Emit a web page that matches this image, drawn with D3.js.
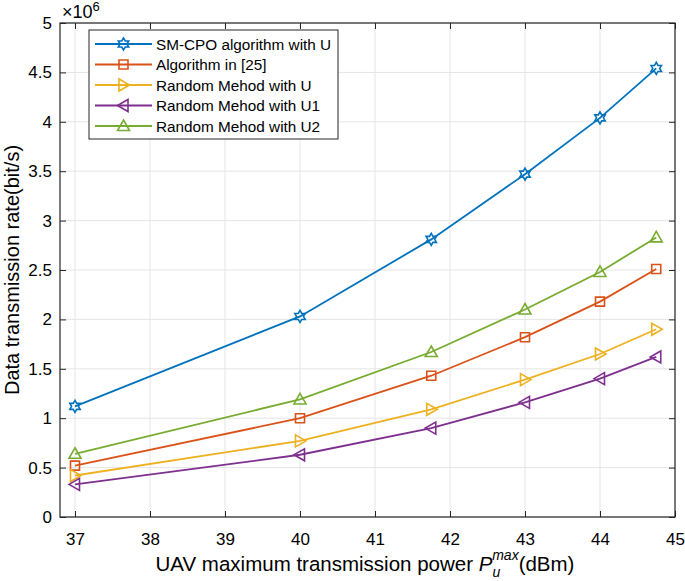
<!DOCTYPE html>
<html>
<head>
<meta charset="utf-8">
<script src="https://cdn.jsdelivr.net/npm/d3@7"></script>
<style>
  body { margin: 0; background: #fff; }
  text { font-family: "Liberation Sans", Arial, sans-serif; fill: #000; }
</style>
</head>
<body>
<div id="chart"></div>
<script>
// chart data (values in units of 1e6 bit/s)
const powerLevels = [37, 40, 41.75, 43, 44, 44.75];
const smCpoU   = [1.12, 2.03, 2.81, 3.47, 4.04, 4.54];
const algo25   = [0.52, 1.00, 1.43, 1.82, 2.18, 2.51];
const randomU  = [0.42, 0.77, 1.09, 1.39, 1.65, 1.90];
const randomU1 = [0.33, 0.63, 0.90, 1.16, 1.40, 1.62];
const randomU2 = [0.64, 1.19, 1.67, 2.10, 2.48, 2.83];
const xTicks = [37, 38, 39, 40, 41, 42, 43, 44, 45];
const yTicks = [0, 0.5, 1, 1.5, 2, 2.5, 3, 3.5, 4, 4.5, 5];

const series = [
  { name: "SM-CPO algorithm with U", values: smCpoU,   color: "#0072BD", marker: "hexagram" },
  { name: "Algorithm in [25]",       values: algo25,   color: "#D95319", marker: "square" },
  { name: "Random Mehod with U",     values: randomU,  color: "#EDB120", marker: "right" },
  { name: "Random Mehod with U1",    values: randomU1, color: "#7E2F8E", marker: "left" },
  { name: "Random Mehod with U2",    values: randomU2, color: "#77AC30", marker: "up" }
];

const width = 685, height = 581;
const margin = { top: 23, right: 10, bottom: 64, left: 60 };
const innerW = width - margin.left - margin.right;
const innerH = height - margin.top - margin.bottom;

const svg = d3.select("#chart")
  .append("svg")
  .attr("width", width)
  .attr("height", height);

const g = svg.append("g")
  .attr("transform", `translate(${margin.left},${margin.top})`);

const x = d3.scaleLinear().domain([36.8, 45]).range([0, innerW]);
const y = d3.scaleLinear().domain([0, 5]).range([innerH, 0]);

// grid
g.append("g").selectAll("line")
  .data(xTicks)
  .join("line")
  .attr("x1", d => x(d)).attr("x2", d => x(d))
  .attr("y1", 0).attr("y2", innerH)
  .attr("stroke", "#e5e5e5").attr("stroke-width", 1);
g.append("g").selectAll("line")
  .data(yTicks)
  .join("line")
  .attr("x1", 0).attr("x2", innerW)
  .attr("y1", d => y(d)).attr("y2", d => y(d))
  .attr("stroke", "#e5e5e5").attr("stroke-width", 1);

// axes, ticks pointing inward on all four sides
const axisColor = "#262626";
function styleAxis(sel) {
  sel.select(".domain").remove();
  sel.selectAll(".tick line").attr("stroke", axisColor).attr("stroke-width", 1);
  sel.selectAll(".tick text")
    .style("font-family", "'Liberation Sans', Arial, sans-serif")
    .style("font-size", "17px")
    .attr("fill", "#000");
}
g.append("g")
  .attr("transform", `translate(0,${innerH})`)
  .call(d3.axisBottom(x).tickValues(xTicks).tickSizeInner(-6).tickSizeOuter(0).tickPadding(16).tickFormat(d3.format("d")))
  .call(styleAxis);
g.append("g")
  .call(d3.axisTop(x).tickValues(xTicks).tickSizeInner(-6).tickSizeOuter(0).tickFormat(""))
  .call(styleAxis);
g.append("g")
  .call(d3.axisLeft(y).tickValues(yTicks).tickSizeInner(-6).tickSizeOuter(0).tickPadding(8).tickFormat(d => d3.format("")(d)))
  .call(styleAxis);
g.append("g")
  .attr("transform", `translate(${innerW},0)`)
  .call(d3.axisRight(y).tickValues(yTicks).tickSizeInner(-6).tickSizeOuter(0).tickFormat(""))
  .call(styleAxis);

g.append("rect")
  .attr("width", innerW).attr("height", innerH)
  .attr("fill", "none").attr("stroke", axisColor).attr("stroke-width", 1.2);

// marker shapes
function markerPath(type, r) {
  if (type === "hexagram") {
    const pts = [];
    for (let i = 0; i < 12; i++) {
      const a = -Math.PI / 2 + i * Math.PI / 6;
      const rr = i % 2 === 0 ? r : r / Math.sqrt(3);
      pts.push([rr * Math.cos(a), rr * Math.sin(a)]);
    }
    return "M" + pts.map(p => p.join(",")).join("L") + "Z";
  }
  if (type === "square") {
    const s = r * 0.75;
    return `M${-s},${-s}L${s},${-s}L${s},${s}L${-s},${s}Z`;
  }
  if (type === "up") return `M0,${-r}L${r},${r * 0.75}L${-r},${r * 0.75}Z`;
  if (type === "right") return `M${r},0L${-r * 0.75},${r}L${-r * 0.75},${-r}Z`;
  if (type === "left") return `M${-r},0L${r * 0.75},${r}L${r * 0.75},${-r}Z`;
}

const line = d3.line()
  .x((d, i) => x(powerLevels[i]))
  .y(d => y(d));

series.forEach(s => {
  g.append("path")
    .datum(s.values)
    .attr("d", line)
    .attr("fill", "none")
    .attr("stroke", s.color)
    .attr("stroke-width", 1.8);
  g.append("g").selectAll("path")
    .data(s.values)
    .join("path")
    .attr("transform", (d, i) => `translate(${x(powerLevels[i])},${y(d)})`)
    .attr("d", markerPath(s.marker, 6))
    .attr("fill", "none")
    .attr("stroke", s.color)
    .attr("stroke-width", 1.6);
});

// legend
const legend = svg.append("g").attr("transform", "translate(89,30)");
legend.append("rect")
  .attr("width", 249).attr("height", 109)
  .attr("fill", "#fff").attr("stroke", axisColor).attr("stroke-width", 1);
series.forEach((s, i) => {
  const ly = 14 + i * 20.5;
  legend.append("line")
    .attr("x1", 6).attr("x2", 63).attr("y1", ly).attr("y2", ly)
    .attr("stroke", s.color).attr("stroke-width", 1.8);
  legend.append("path")
    .attr("transform", `translate(34.5,${ly})`)
    .attr("d", markerPath(s.marker, 6))
    .attr("fill", "none").attr("stroke", s.color).attr("stroke-width", 1.6);
  legend.append("text")
    .attr("x", 67).attr("y", ly + 5.5)
    .style("font-size", "15.3px")
    .text(s.name);
});

// exponent label
const expo = svg.append("text")
  .attr("x", 62).attr("y", 18)
  .style("font-size", "18px");
expo.append("tspan").text("×10");
expo.append("tspan").attr("dy", -7).style("font-size", "13px").text("6");

// axis labels
svg.append("text")
  .attr("transform", `translate(19,${margin.top + innerH / 2}) rotate(-90)`)
  .attr("text-anchor", "middle")
  .style("font-size", "20px")
  .text("Data transmission rate(bit/s)");

const xl = svg.append("text")
  .attr("x", 365).attr("y", 571)
  .attr("text-anchor", "middle")
  .style("font-size", "20.5px");
xl.append("tspan").text("UAV maximum transmission power ");
xl.append("tspan").style("font-style", "italic").text("P");
xl.append("tspan").attr("dy", 6).style("font-style", "italic").style("font-size", "14px").text("u");
xl.append("tspan").attr("dx", -8).attr("dy", -17).style("font-style", "italic").style("font-size", "14px").text("max");
xl.append("tspan").attr("dy", 11).text("(dBm)");
</script>
</body>
</html>
